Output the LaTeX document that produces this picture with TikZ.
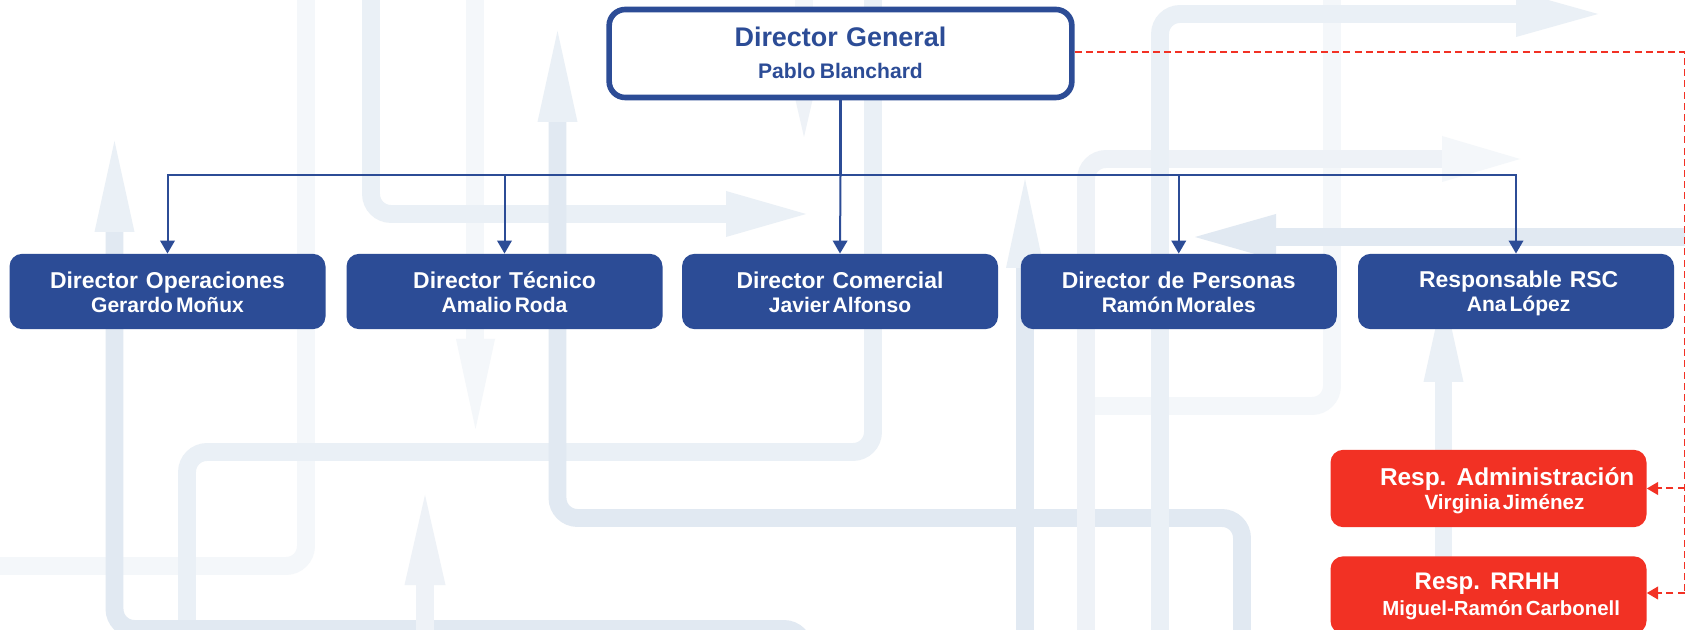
\documentclass[tikz,border=0pt]{standalone}
\usepackage{fontspec}
\usetikzlibrary{arrows.meta}
\setmainfont{Liberation Sans}
\definecolor{pA}{HTML}{E1E9F2}
\definecolor{pB}{HTML}{EAF0F6}
\definecolor{pC}{HTML}{F4F7FA}
\definecolor{pD}{HTML}{EEF2F7}
\definecolor{navy}{HTML}{2C4C96}
\definecolor{alarm}{HTML}{F23124}
% \twoline{strut height}{head size}{head}{head shift}{name size}{name}{name shift}
\newcommand{\twoline}[7]{\rule{0pt}{#1pt}{\fontsize{#2pt}{19.2pt}\selectfont\bfseries\spaceskip=6pt\hspace*{#4pt}#3}\\{\fontsize{#5pt}{19.2pt}\selectfont\bfseries\spaceskip=2.2pt\hspace*{#7pt}#6\rule[-1.5pt]{0pt}{1.5pt}}}
\tikzset{
  x=0.75pt,y=-0.75pt,
  pipe/.style={line width=13.4pt,rounded corners=15pt,line cap=butt},
  card/.style={rectangle,rounded corners=9.5pt,inner sep=0pt,align=center,text=white,minimum height=56.5pt,font=\fontsize{14pt}{17.7pt}\selectfont},
  bluecard/.style={card,fill=navy,minimum width=237pt},
  redcard/.style={card,fill=alarm,minimum width=237pt,minimum height=58pt},
  topcard/.style={rectangle,rounded corners=12pt,draw=navy,line width=4.2pt,fill=white,inner sep=0pt,align=center,text=navy,minimum width=347pt,minimum height=66pt,font=\fontsize{14pt}{23.5pt}\selectfont},
  conn/.style={draw=navy,line width=1.5pt},
  connarrow/.style={conn,-{Triangle[length=9.75pt,width=10.9pt]}},
  trunk/.style={draw=navy,line width=2.4pt},
  reddash/.style={draw=alarm,line width=1.5pt,dash pattern=on 5.2pt off 3.2pt},
  redarrow/.style={reddash,-{Triangle[length=8.5pt,width=9.5pt]}},
}
\newcommand{\uphead}[5]{\fill[#5] (#1,#2) -- (#1+#4,#3) -- (#1-#4,#3) -- cycle;}
\newcommand{\righthead}[5]{\fill[#5] (#3,#1) -- (#2,#1-#4) -- (#2,#1+#4) -- cycle;}
\newcommand{\bluetext}[4]{\twoline{15.45}{17.2}{#1}{#2}{15.8}{#3}{#4}}
\begin{document}
\begin{tikzpicture}
\useasboundingbox (0,0) rectangle (1685,630);
\fill[white] (0,0) rectangle (1685,630);
\begin{scope}
\clip (0,0) rectangle (1685,630);
\draw[pipe,pC] (0,566) -- (306,566) -- (306,-20);
\draw[pipe,pC] (475,-20) -- (475,340);
\fill[pC] (456,339) -- (495,339) -- (475.5,429) -- cycle;
\draw[pipe,pC] (804,-20) -- (804,60);
\fill[pD] (784,50) -- (824,50) -- (804,137) -- cycle;
\draw[pipe,pB] (187,650) -- (187,452) -- (873,452) -- (873,-20);
\draw[pipe,pB] (371,-20) -- (371,214) -- (730,214);
\righthead{214}{726}{806}{23}{pB}
\draw[pipe,pA] (114.5,225) -- (114.5,629) -- (804,629) -- (804,700);
\uphead{114.5}{141}{232}{20}{pB}
\draw[pipe,pD] (425,650) -- (425,580);
\uphead{425}{495}{585}{20.5}{pD}
\draw[pipe,pA] (557.5,115) -- (557.5,518) -- (1242,518) -- (1242,650);
\uphead{557.5}{31}{122}{20}{pB}
\draw[pipe,pC] (1086,406) -- (1332,406) -- (1332,-20);
\draw[pipe,pD] (1086,650) -- (1086,159) -- (1445,159);
\righthead{159}{1442}{1520}{23}{pC}
\draw[pipe,pA] (1025,650) -- (1025,260);
\uphead{1025}{179}{268}{19}{pB}
\draw[pipe,pB] (1160,650) -- (1160,14) -- (1520,14);
\righthead{14}{1516}{1598}{23}{pB}
\draw[pipe,pA] (1700,237) -- (1272,237);
\fill[pA] (1276,214) -- (1276,260) -- (1195,237) -- cycle;
\draw[pipe,pB] (1443.5,650) -- (1443.5,375);
\uphead{1443.5}{292}{382}{20}{pB}
\end{scope}

\node[topcard] (dg) at (840.5,53.5) {\rule{0pt}{15pt}{\fontsize{20.2pt}{24pt}\selectfont\bfseries\spaceskip=6.2pt Director General}\\{\fontsize{15.8pt}{24pt}\selectfont\bfseries\spaceskip=3.2pt Pablo Blanchard\rule[-1.5pt]{0pt}{1.5pt}}};

\node[bluecard] (op) at (167.5,291.5) {\bluetext{Director Operaciones}{0}{Gerardo Moñux}{0}};
\node[bluecard] (te) at (504.5,291.5) {\bluetext{Director Técnico}{0}{Amalio Roda}{0}};
\node[bluecard] (co) at (840,291.5) {\bluetext{Director Comercial}{0}{Javier Alfonso}{0}};
\node[bluecard] (pe) at (1178.75,291.5) {\bluetext{Director de Personas}{0}{Ramón Morales}{0}};
\node[bluecard] (rs) at (1516,291.5) {\bluetext{Responsable RSC}{4}{Ana López}{4}};

\node[redcard] (ra) at (1488.5,488.5) {\twoline{16.7}{18.3}{Resp. Administración}{28}{15.5}{Virginia Jiménez}{24}};
\node[redcard,font=\fontsize{14pt}{19.2pt}\selectfont] (rr) at (1488.5,595) {\twoline{14.35}{18}{Resp. RRHH}{-2}{15.3}{Miguel-Ramón Carbonell}{19}};

\coordinate (bus) at (dg.south |- 0,175);
\coordinate (railtop) at (1684.6,52);
\coordinate (railbot) at (1684.6,593);

\draw[trunk] (dg.south) -- (bus);
\draw[connarrow] (dg.south |- bus) -- (co.north);
\draw[connarrow] (bus) -| (op.north);
\draw[connarrow] (bus) -| (te.north);
\draw[connarrow] (bus) -| (pe.north);
\draw[connarrow] (bus) -| (rs.north);

\draw[reddash] (dg.east |- railtop) -- (railtop) -- (railbot);
\draw[redarrow] (railbot |- ra.east) -- (ra.east);
\draw[redarrow] (railbot) -- (rr.east |- railbot);
\end{tikzpicture}
\end{document}
